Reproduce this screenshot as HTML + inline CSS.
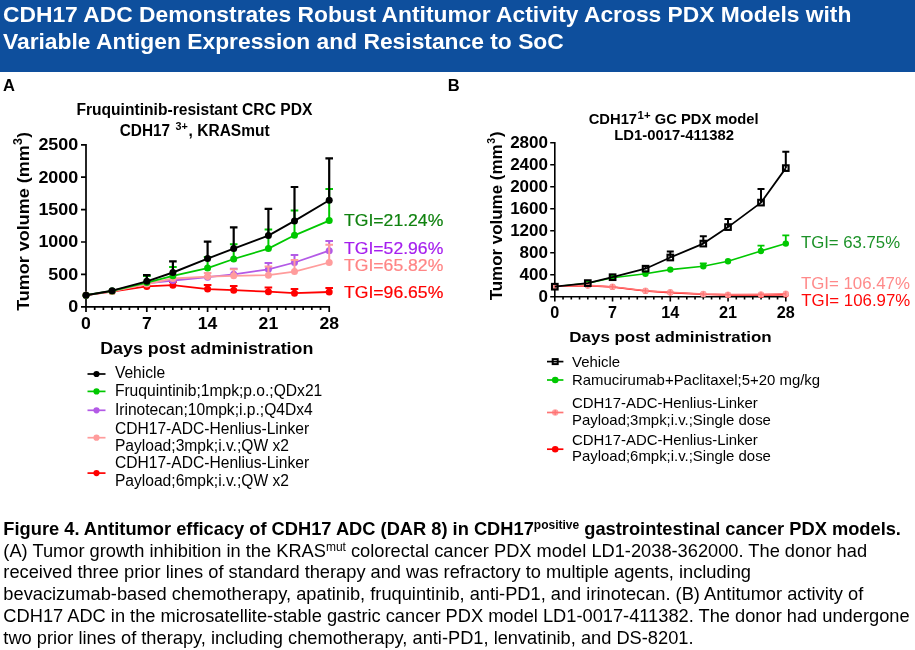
<!DOCTYPE html>
<html><head><meta charset="utf-8"><title>CDH17 ADC</title>
<style>
html,body{margin:0;padding:0;background:#fff;}
body{width:915px;height:650px;position:relative;overflow:hidden;font-family:'Liberation Sans', Arial, sans-serif;color:#000;}
.hdr{position:absolute;left:0;top:0;width:914.6px;height:71.5px;background:#0E4F9D;}
.hdr div{position:absolute;left:3px;color:#fff;font-weight:bold;font-size:22.82px;line-height:27px;white-space:nowrap;}
.lab{position:absolute;font-weight:bold;font-size:16.5px;line-height:18px;}
.cap{position:absolute;left:3.35px;font-size:18.25px;line-height:22px;white-space:nowrap;}
.cap sup{font-size:12px;line-height:0;vertical-align:baseline;position:relative;top:-5.5px;}
svg{position:absolute;left:0;top:0;}
svg text{font-family:'Liberation Sans', Arial, sans-serif;}
</style></head><body>
<div class="hdr"><div style="top:0.6px">CDH17 ADC Demonstrates Robust Antitumor Activity Across PDX Models with</div><div style="top:28px">Variable Antigen Expression and Resistance to SoC</div></div>
<div class="lab" style="left:2.9px;top:76px">A</div>
<div class="lab" style="left:447.8px;top:76px">B</div>
<svg width="915" height="650" viewBox="0 0 915 650">
<g id="chartA">
<path d="M86.0 143.95V306.8H330.05" stroke="#000" stroke-width="1.7" fill="none" stroke-linejoin="miter"/>
<path d="M86.00 306.8v5.2M146.80 306.8v5.2M207.60 306.8v5.2M268.40 306.8v5.2M329.20 306.8v5.2M94.69 306.8v3.2M103.37 306.8v3.2M112.06 306.8v3.2M120.74 306.8v3.2M129.43 306.8v3.2M138.11 306.8v3.2M155.49 306.8v3.2M164.17 306.8v3.2M172.86 306.8v3.2M181.54 306.8v3.2M190.23 306.8v3.2M198.91 306.8v3.2M216.29 306.8v3.2M224.97 306.8v3.2M233.66 306.8v3.2M242.34 306.8v3.2M251.03 306.8v3.2M259.71 306.8v3.2M277.09 306.8v3.2M285.77 306.8v3.2M294.46 306.8v3.2M303.14 306.8v3.2M311.83 306.8v3.2M320.51 306.8v3.2M86.0 306.80h-5M86.0 274.40h-5M86.0 242.00h-5M86.0 209.60h-5M86.0 177.20h-5M86.0 144.80h-5" stroke="#000" stroke-width="1.7" fill="none"/>
<path d="M146.8 286.4V283.1M143.0 283.1H150.6" stroke="#FF0000" stroke-width="2.0" fill="none"/>
<path d="M172.9 285.2V282.1M169.1 282.1H176.7" stroke="#FF0000" stroke-width="2.0" fill="none"/>
<path d="M207.6 289.1V285.1M203.8 285.1H211.4" stroke="#FF0000" stroke-width="2.0" fill="none"/>
<path d="M233.7 290.2V286.1M229.9 286.1H237.5" stroke="#FF0000" stroke-width="2.0" fill="none"/>
<path d="M268.4 291.7V287.6M264.6 287.6H272.2" stroke="#FF0000" stroke-width="2.0" fill="none"/>
<path d="M294.5 293.2V289.1M290.7 289.1H298.3" stroke="#FF0000" stroke-width="2.0" fill="none"/>
<path d="M329.2 292.0V288.1M325.4 288.1H333.0" stroke="#FF0000" stroke-width="2.0" fill="none"/>
<path d="M86.0 295.2L112.1 291.6L146.8 286.4L172.9 285.2L207.6 289.1L233.7 290.2L268.4 291.7L294.5 293.2L329.2 292.0" stroke="#FF0000" stroke-width="1.8" fill="none" stroke-linejoin="round"/>
<circle cx="86.0" cy="295.2" r="3.5" fill="#FF0000"/>
<circle cx="112.1" cy="291.6" r="3.5" fill="#FF0000"/>
<circle cx="146.8" cy="286.4" r="3.5" fill="#FF0000"/>
<circle cx="172.9" cy="285.2" r="3.5" fill="#FF0000"/>
<circle cx="207.6" cy="289.1" r="3.5" fill="#FF0000"/>
<circle cx="233.7" cy="290.2" r="3.5" fill="#FF0000"/>
<circle cx="268.4" cy="291.7" r="3.5" fill="#FF0000"/>
<circle cx="294.5" cy="293.2" r="3.5" fill="#FF0000"/>
<circle cx="329.2" cy="292.0" r="3.5" fill="#FF0000"/>
<path d="M233.7 274.3V268.7M229.9 268.7H237.5" stroke="#B35AE6" stroke-width="2.0" fill="none"/>
<path d="M268.4 269.3V262.9M264.6 262.9H272.2" stroke="#B35AE6" stroke-width="2.0" fill="none"/>
<path d="M294.5 262.5V255.1M290.7 255.1H298.3" stroke="#B35AE6" stroke-width="2.0" fill="none"/>
<path d="M329.2 250.7V241.0M325.4 241.0H333.0" stroke="#B35AE6" stroke-width="2.0" fill="none"/>
<path d="M86.0 295.2L112.1 291.2L146.8 283.4L172.9 280.5L207.6 277.2L233.7 274.3L268.4 269.3L294.5 262.5L329.2 250.7" stroke="#B35AE6" stroke-width="1.8" fill="none" stroke-linejoin="round"/>
<circle cx="86.0" cy="295.2" r="3.5" fill="#B35AE6"/>
<circle cx="112.1" cy="291.2" r="3.5" fill="#B35AE6"/>
<circle cx="146.8" cy="283.4" r="3.5" fill="#B35AE6"/>
<circle cx="172.9" cy="280.5" r="3.5" fill="#B35AE6"/>
<circle cx="207.6" cy="277.2" r="3.5" fill="#B35AE6"/>
<circle cx="233.7" cy="274.3" r="3.5" fill="#B35AE6"/>
<circle cx="268.4" cy="269.3" r="3.5" fill="#B35AE6"/>
<circle cx="294.5" cy="262.5" r="3.5" fill="#B35AE6"/>
<circle cx="329.2" cy="250.7" r="3.5" fill="#B35AE6"/>
<path d="M207.6 276.6V272.9M203.8 272.9H211.4" stroke="#FF9C9C" stroke-width="2.0" fill="none"/>
<path d="M233.7 275.8V269.2M229.9 269.2H237.5" stroke="#FF9C9C" stroke-width="2.0" fill="none"/>
<path d="M268.4 275.2V266.4M264.6 266.4H272.2" stroke="#FF9C9C" stroke-width="2.0" fill="none"/>
<path d="M294.5 271.6V260.1M290.7 260.1H298.3" stroke="#FF9C9C" stroke-width="2.0" fill="none"/>
<path d="M329.2 262.5V244.8M325.4 244.8H333.0" stroke="#FF9C9C" stroke-width="2.0" fill="none"/>
<path d="M86.0 295.2L112.1 291.4L146.8 284.0L172.9 278.5L207.6 276.6L233.7 275.8L268.4 275.2L294.5 271.6L329.2 262.5" stroke="#FF9C9C" stroke-width="1.8" fill="none" stroke-linejoin="round"/>
<circle cx="86.0" cy="295.2" r="3.5" fill="#FF9C9C"/>
<circle cx="112.1" cy="291.4" r="3.5" fill="#FF9C9C"/>
<circle cx="146.8" cy="284.0" r="3.5" fill="#FF9C9C"/>
<circle cx="172.9" cy="278.5" r="3.5" fill="#FF9C9C"/>
<circle cx="207.6" cy="276.6" r="3.5" fill="#FF9C9C"/>
<circle cx="233.7" cy="275.8" r="3.5" fill="#FF9C9C"/>
<circle cx="268.4" cy="275.2" r="3.5" fill="#FF9C9C"/>
<circle cx="294.5" cy="271.6" r="3.5" fill="#FF9C9C"/>
<circle cx="329.2" cy="262.5" r="3.5" fill="#FF9C9C"/>
<path d="M146.8 282.6V276.1M143.0 276.1H150.6" stroke="#00C800" stroke-width="2.0" fill="none"/>
<path d="M172.9 275.8V266.9M169.1 266.9H176.7" stroke="#00C800" stroke-width="2.0" fill="none"/>
<path d="M207.6 268.1V256.9M203.8 256.9H211.4" stroke="#00C800" stroke-width="2.0" fill="none"/>
<path d="M233.7 259.0V244.2M229.9 244.2H237.5" stroke="#00C800" stroke-width="2.0" fill="none"/>
<path d="M268.4 248.6V229.4M264.6 229.4H272.2" stroke="#00C800" stroke-width="2.0" fill="none"/>
<path d="M294.5 235.3V210.6M290.7 210.6H298.3" stroke="#00C800" stroke-width="2.0" fill="none"/>
<path d="M329.2 220.6V189.0M325.4 189.0H333.0" stroke="#00C800" stroke-width="2.0" fill="none"/>
<path d="M86.0 295.2L112.1 290.9L146.8 282.6L172.9 275.8L207.6 268.1L233.7 259.0L268.4 248.6L294.5 235.3L329.2 220.6" stroke="#00C800" stroke-width="1.8" fill="none" stroke-linejoin="round"/>
<circle cx="86.0" cy="295.2" r="3.5" fill="#00C800"/>
<circle cx="112.1" cy="290.9" r="3.5" fill="#00C800"/>
<circle cx="146.8" cy="282.6" r="3.5" fill="#00C800"/>
<circle cx="172.9" cy="275.8" r="3.5" fill="#00C800"/>
<circle cx="207.6" cy="268.1" r="3.5" fill="#00C800"/>
<circle cx="233.7" cy="259.0" r="3.5" fill="#00C800"/>
<circle cx="268.4" cy="248.6" r="3.5" fill="#00C800"/>
<circle cx="294.5" cy="235.3" r="3.5" fill="#00C800"/>
<circle cx="329.2" cy="220.6" r="3.5" fill="#00C800"/>
<path d="M146.8 281.3V275.2M143.0 275.2H150.6" stroke="#000" stroke-width="2.2" fill="none"/>
<path d="M172.9 272.5V261.3M169.1 261.3H176.7" stroke="#000" stroke-width="2.2" fill="none"/>
<path d="M207.6 258.6V241.6M203.8 241.6H211.4" stroke="#000" stroke-width="2.2" fill="none"/>
<path d="M233.7 248.6V227.4M229.9 227.4H237.5" stroke="#000" stroke-width="2.2" fill="none"/>
<path d="M268.4 235.6V208.8M264.6 208.8H272.2" stroke="#000" stroke-width="2.2" fill="none"/>
<path d="M294.5 220.9V187.0M290.7 187.0H298.3" stroke="#000" stroke-width="2.2" fill="none"/>
<path d="M329.2 200.2V158.3M325.4 158.3H333.0" stroke="#000" stroke-width="2.2" fill="none"/>
<path d="M86.0 295.2L112.1 290.7L146.8 281.3L172.9 272.5L207.6 258.6L233.7 248.6L268.4 235.6L294.5 220.9L329.2 200.2" stroke="#000" stroke-width="1.9" fill="none" stroke-linejoin="round"/>
<circle cx="86.0" cy="295.2" r="3.5" fill="#000"/>
<circle cx="112.1" cy="290.7" r="3.5" fill="#000"/>
<circle cx="146.8" cy="281.3" r="3.5" fill="#000"/>
<circle cx="172.9" cy="272.5" r="3.5" fill="#000"/>
<circle cx="207.6" cy="258.6" r="3.5" fill="#000"/>
<circle cx="233.7" cy="248.6" r="3.5" fill="#000"/>
<circle cx="268.4" cy="235.6" r="3.5" fill="#000"/>
<circle cx="294.5" cy="220.9" r="3.5" fill="#000"/>
<circle cx="329.2" cy="200.2" r="3.5" fill="#000"/>
<text x="68.33" y="312.1" font-size="16.6" font-weight="bold" fill="#000" text-anchor="start" textLength="9.97" lengthAdjust="spacingAndGlyphs" >0</text>
<text x="48.39" y="279.7" font-size="16.6" font-weight="bold" fill="#000" text-anchor="start" textLength="29.91" lengthAdjust="spacingAndGlyphs" >500</text>
<text x="38.42" y="247.3" font-size="16.6" font-weight="bold" fill="#000" text-anchor="start" textLength="39.88" lengthAdjust="spacingAndGlyphs" >1000</text>
<text x="38.42" y="214.9" font-size="16.6" font-weight="bold" fill="#000" text-anchor="start" textLength="39.88" lengthAdjust="spacingAndGlyphs" >1500</text>
<text x="38.42" y="182.5" font-size="16.6" font-weight="bold" fill="#000" text-anchor="start" textLength="39.88" lengthAdjust="spacingAndGlyphs" >2000</text>
<text x="38.42" y="150.1" font-size="16.6" font-weight="bold" fill="#000" text-anchor="start" textLength="39.88" lengthAdjust="spacingAndGlyphs" >2500</text>
<text x="81.11" y="329.2" font-size="16.6" font-weight="bold" fill="#000" text-anchor="start" textLength="9.79" lengthAdjust="spacingAndGlyphs" >0</text>
<text x="141.91" y="329.2" font-size="16.6" font-weight="bold" fill="#000" text-anchor="start" textLength="9.79" lengthAdjust="spacingAndGlyphs" >7</text>
<text x="197.81" y="329.2" font-size="16.6" font-weight="bold" fill="#000" text-anchor="start" textLength="19.57" lengthAdjust="spacingAndGlyphs" >14</text>
<text x="258.61" y="329.2" font-size="16.6" font-weight="bold" fill="#000" text-anchor="start" textLength="19.57" lengthAdjust="spacingAndGlyphs" >21</text>
<text x="319.41" y="329.2" font-size="16.6" font-weight="bold" fill="#000" text-anchor="start" textLength="19.57" lengthAdjust="spacingAndGlyphs" >28</text>
<text x="76.4" y="114.5" font-size="15.6" font-weight="bold" fill="#000" text-anchor="start" textLength="236" lengthAdjust="spacingAndGlyphs" >Fruquintinib-resistant CRC PDX</text>
<text x="119.7" y="135.7" font-size="15.6" font-weight="bold" fill="#000" text-anchor="start" textLength="50.38" lengthAdjust="spacingAndGlyphs" >CDH17</text>
<text x="175.6" y="129.5" font-size="10.8" font-weight="bold" fill="#000" text-anchor="start" >3+</text>
<text x="188.6" y="135.7" font-size="15.6" font-weight="bold" fill="#000" text-anchor="start" textLength="81.06" lengthAdjust="spacingAndGlyphs" >, KRASmut</text>
<text x="100.2" y="354.2" font-size="17" font-weight="bold" fill="#000" text-anchor="start" textLength="213.2" lengthAdjust="spacingAndGlyphs" >Days post administration</text>
<g transform="translate(28.6,310.8) rotate(-90)"><text x="0" y="0" font-size="17.2" font-weight="bold" fill="#000" text-anchor="start" textLength="165.5" lengthAdjust="spacingAndGlyphs" >Tumor volume (mm</text><text x="165.8" y="-6.6" font-size="12.5" font-weight="bold" fill="#000" text-anchor="start" >3</text><text x="173" y="0" font-size="17.2" font-weight="bold" fill="#000" text-anchor="start" >)</text></g>
<text x="344" y="225.6" font-size="17.2" font-weight="normal" fill="#10820F" text-anchor="start" textLength="99.3" lengthAdjust="spacingAndGlyphs" stroke="#10820F" stroke-width="0.2">TGI=21.24%</text>
<text x="344" y="253.5" font-size="17.2" font-weight="normal" fill="#A51EEE" text-anchor="start" textLength="99.3" lengthAdjust="spacingAndGlyphs" stroke="#A51EEE" stroke-width="0.2">TGI=52.96%</text>
<text x="344" y="271.3" font-size="17.2" font-weight="normal" fill="#FF8585" text-anchor="start" textLength="99.3" lengthAdjust="spacingAndGlyphs" stroke="#FF8585" stroke-width="0.2">TGI=65.82%</text>
<text x="344" y="298.4" font-size="17.2" font-weight="normal" fill="#FF0000" text-anchor="start" textLength="99.3" lengthAdjust="spacingAndGlyphs" stroke="#FF0000" stroke-width="0.2">TGI=96.65%</text>
<path d="M87.5 374H105.5" stroke="#000" stroke-width="1.7"/><circle cx="96.5" cy="374" r="3.1" fill="#000"/>
<text x="114.9" y="378.1" font-size="16.0" font-weight="normal" fill="#000" text-anchor="start" textLength="50.34" lengthAdjust="spacingAndGlyphs" >Vehicle</text>
<path d="M87.5 391.4H105.5" stroke="#00C800" stroke-width="1.7"/><circle cx="96.5" cy="391.4" r="3.1" fill="#00C800"/>
<text x="114.9" y="395.5" font-size="16.0" font-weight="normal" fill="#000" text-anchor="start" textLength="207.37" lengthAdjust="spacingAndGlyphs" >Fruquintinib;1mpk;p.o.;QDx21</text>
<path d="M87.5 410.3H105.5" stroke="#B35AE6" stroke-width="1.7"/><circle cx="96.5" cy="410.3" r="3.1" fill="#B35AE6"/>
<text x="114.9" y="414.7" font-size="16.0" font-weight="normal" fill="#000" text-anchor="start" textLength="197.83" lengthAdjust="spacingAndGlyphs" >Irinotecan;10mpk;i.p.;Q4Dx4</text>
<path d="M87.5 437.7H105.5" stroke="#FF9C9C" stroke-width="1.7"/><circle cx="96.5" cy="437.7" r="3.1" fill="#FF9C9C"/>
<text x="114.9" y="433.9" font-size="16.0" font-weight="normal" fill="#000" text-anchor="start" textLength="194.32" lengthAdjust="spacingAndGlyphs" >CDH17-ADC-Henlius-Linker</text>
<text x="114.9" y="451" font-size="16.0" font-weight="normal" fill="#000" text-anchor="start" textLength="174.08" lengthAdjust="spacingAndGlyphs" >Payload;3mpk;i.v.;QW x2</text>
<path d="M87.5 473.1H105.5" stroke="#FF0000" stroke-width="1.7"/><circle cx="96.5" cy="473.1" r="3.1" fill="#FF0000"/>
<text x="114.9" y="468.1" font-size="16.0" font-weight="normal" fill="#000" text-anchor="start" textLength="194.32" lengthAdjust="spacingAndGlyphs" >CDH17-ADC-Henlius-Linker</text>
<text x="114.9" y="485.5" font-size="16.0" font-weight="normal" fill="#000" text-anchor="start" textLength="174.08" lengthAdjust="spacingAndGlyphs" >Payload;6mpk;i.v.;QW x2</text>
</g>
<g id="chartB">
<path d="M554.8 141.90V296.7H786.60" stroke="#000" stroke-width="1.6" fill="none" stroke-linejoin="miter"/>
<path d="M554.80 296.7v4.8M612.55 296.7v4.8M670.30 296.7v4.8M728.05 296.7v4.8M785.80 296.7v4.8M563.05 296.7v2.8M571.30 296.7v2.8M579.55 296.7v2.8M587.80 296.7v2.8M596.05 296.7v2.8M604.30 296.7v2.8M620.80 296.7v2.8M629.05 296.7v2.8M637.30 296.7v2.8M645.55 296.7v2.8M653.80 296.7v2.8M662.05 296.7v2.8M678.55 296.7v2.8M686.80 296.7v2.8M695.05 296.7v2.8M703.30 296.7v2.8M711.55 296.7v2.8M719.80 296.7v2.8M736.30 296.7v2.8M744.55 296.7v2.8M752.80 296.7v2.8M761.05 296.7v2.8M769.30 296.7v2.8M777.55 296.7v2.8M554.8 296.70h-4.6M554.8 274.70h-4.6M554.8 252.70h-4.6M554.8 230.70h-4.6M554.8 208.70h-4.6M554.8 186.70h-4.6M554.8 164.70h-4.6M554.8 142.70h-4.6" stroke="#000" stroke-width="1.6" fill="none"/>
<path d="M703.3 266.3V263.4M699.8 263.4H706.8" stroke="#00C800" stroke-width="1.8" fill="none"/>
<path d="M761.0 251.0V245.6M757.5 245.6H764.5" stroke="#00C800" stroke-width="1.8" fill="none"/>
<path d="M785.8 243.6V235.3M782.3 235.3H789.3" stroke="#00C800" stroke-width="1.8" fill="none"/>
<path d="M554.8 286.7L587.8 283.3L612.5 277.8L645.5 273.7L670.3 269.6L703.3 266.3L728.0 261.3L761.0 251.0L785.8 243.6" stroke="#00C800" stroke-width="1.6" fill="none" stroke-linejoin="round"/>
<circle cx="554.8" cy="286.7" r="3.2" fill="#00C800"/>
<circle cx="587.8" cy="283.3" r="3.2" fill="#00C800"/>
<circle cx="612.5" cy="277.8" r="3.2" fill="#00C800"/>
<circle cx="645.5" cy="273.7" r="3.2" fill="#00C800"/>
<circle cx="670.3" cy="269.6" r="3.2" fill="#00C800"/>
<circle cx="703.3" cy="266.3" r="3.2" fill="#00C800"/>
<circle cx="728.0" cy="261.3" r="3.2" fill="#00C800"/>
<circle cx="761.0" cy="251.0" r="3.2" fill="#00C800"/>
<circle cx="785.8" cy="243.6" r="3.2" fill="#00C800"/>
<path d="M554.8 286.1L587.8 285.6L612.5 287.0L645.5 291.0L670.3 292.6L703.3 294.3L728.0 294.9L761.0 294.9L785.8 294.6" stroke="#FF0000" stroke-width="1.6" fill="none" stroke-linejoin="round"/>
<circle cx="554.8" cy="286.1" r="3.0" fill="#FF0000"/>
<circle cx="587.8" cy="285.6" r="3.0" fill="#FF0000"/>
<circle cx="612.5" cy="287.0" r="3.0" fill="#FF0000"/>
<circle cx="645.5" cy="291.0" r="3.0" fill="#FF0000"/>
<circle cx="670.3" cy="292.6" r="3.0" fill="#FF0000"/>
<circle cx="703.3" cy="294.3" r="3.0" fill="#FF0000"/>
<circle cx="728.0" cy="294.9" r="3.0" fill="#FF0000"/>
<circle cx="761.0" cy="294.9" r="3.0" fill="#FF0000"/>
<circle cx="785.8" cy="294.6" r="3.0" fill="#FF0000"/>
<circle cx="554.8" cy="286.1" r="3.2" fill="#FFA3A3"/><circle cx="587.8" cy="285.4" r="3.2" fill="#FFA3A3"/><circle cx="612.5" cy="286.7" r="3.2" fill="#FFA3A3"/><circle cx="645.5" cy="290.8" r="3.2" fill="#FFA3A3"/><circle cx="670.3" cy="292.3" r="3.2" fill="#FFA3A3"/><circle cx="703.3" cy="294.0" r="3.2" fill="#FFA3A3"/><circle cx="728.0" cy="294.6" r="3.2" fill="#FFA3A3"/><circle cx="761.0" cy="294.4" r="3.2" fill="#FFA3A3"/><circle cx="785.8" cy="293.8" r="3.2" fill="#FFA3A3"/>
<path d="M554.8 286.1L587.8 285.4L612.5 286.7L645.5 290.8L670.3 292.3L703.3 294.0L728.0 294.6L761.0 294.4L785.8 293.8" stroke="#FF7575" stroke-width="1.6" fill="none" stroke-linejoin="round"/>
<path d="M554.8 283.5v5.2M587.8 282.8v5.2M612.5 284.1v5.2M645.5 288.2v5.2M670.3 289.7v5.2M703.3 291.4v5.2M728.0 292.0v5.2M761.0 291.8v5.2M785.8 291.2v5.2" stroke="#FF7575" stroke-width="1.2" fill="none"/>
<path d="M645.5 268.7V266.1M642.0 266.1H649.0" stroke="#000" stroke-width="2.0" fill="none"/>
<path d="M670.3 257.5V251.6M666.8 251.6H673.8" stroke="#000" stroke-width="2.0" fill="none"/>
<path d="M703.3 243.6V236.2M699.8 236.2H706.8" stroke="#000" stroke-width="2.0" fill="none"/>
<path d="M728.0 227.1V219.1M724.5 219.1H731.5" stroke="#000" stroke-width="2.0" fill="none"/>
<path d="M761.0 202.6V189.0M757.5 189.0H764.5" stroke="#000" stroke-width="2.0" fill="none"/>
<path d="M785.8 168.1V151.8M782.3 151.8H789.3" stroke="#000" stroke-width="2.0" fill="none"/>
<path d="M554.8 286.7L587.8 283.1L612.5 277.2L645.5 268.7L670.3 257.5L703.3 243.6L728.0 227.1L761.0 202.6L785.8 168.1" stroke="#000" stroke-width="1.8" fill="none" stroke-linejoin="round"/>
<rect x="552.0" y="283.9" width="5.6" height="5.6" fill="none" stroke="#000" stroke-width="2.1"/>
<rect x="585.0" y="280.3" width="5.6" height="5.6" fill="none" stroke="#000" stroke-width="2.1"/>
<rect x="609.8" y="274.4" width="5.6" height="5.6" fill="none" stroke="#000" stroke-width="2.1"/>
<rect x="642.8" y="265.9" width="5.6" height="5.6" fill="none" stroke="#000" stroke-width="2.1"/>
<rect x="667.5" y="254.7" width="5.6" height="5.6" fill="none" stroke="#000" stroke-width="2.1"/>
<rect x="700.5" y="240.8" width="5.6" height="5.6" fill="none" stroke="#000" stroke-width="2.1"/>
<rect x="725.2" y="224.3" width="5.6" height="5.6" fill="none" stroke="#000" stroke-width="2.1"/>
<rect x="758.2" y="199.8" width="5.6" height="5.6" fill="none" stroke="#000" stroke-width="2.1"/>
<rect x="783.0" y="165.3" width="5.6" height="5.6" fill="none" stroke="#000" stroke-width="2.1"/>
<text x="538.54" y="302.4" font-size="16.2" font-weight="bold" fill="#000" text-anchor="start" textLength="9.46" lengthAdjust="spacingAndGlyphs" >0</text>
<text x="519.62" y="280.4" font-size="16.2" font-weight="bold" fill="#000" text-anchor="start" textLength="28.38" lengthAdjust="spacingAndGlyphs" >400</text>
<text x="519.62" y="258.4" font-size="16.2" font-weight="bold" fill="#000" text-anchor="start" textLength="28.38" lengthAdjust="spacingAndGlyphs" >800</text>
<text x="510.16" y="236.4" font-size="16.2" font-weight="bold" fill="#000" text-anchor="start" textLength="37.84" lengthAdjust="spacingAndGlyphs" >1200</text>
<text x="510.16" y="214.4" font-size="16.2" font-weight="bold" fill="#000" text-anchor="start" textLength="37.84" lengthAdjust="spacingAndGlyphs" >1600</text>
<text x="510.16" y="192.4" font-size="16.2" font-weight="bold" fill="#000" text-anchor="start" textLength="37.84" lengthAdjust="spacingAndGlyphs" >2000</text>
<text x="510.16" y="170.4" font-size="16.2" font-weight="bold" fill="#000" text-anchor="start" textLength="37.84" lengthAdjust="spacingAndGlyphs" >2400</text>
<text x="510.16" y="148.4" font-size="16.2" font-weight="bold" fill="#000" text-anchor="start" textLength="37.84" lengthAdjust="spacingAndGlyphs" >2800</text>
<text x="550.3" y="318.2" font-size="16.2" font-weight="bold" fill="#000" text-anchor="start" textLength="9.01" lengthAdjust="spacingAndGlyphs" >0</text>
<text x="608.0" y="318.2" font-size="16.2" font-weight="bold" fill="#000" text-anchor="start" textLength="9.01" lengthAdjust="spacingAndGlyphs" >7</text>
<text x="661.29" y="318.2" font-size="16.2" font-weight="bold" fill="#000" text-anchor="start" textLength="18.02" lengthAdjust="spacingAndGlyphs" >14</text>
<text x="718.99" y="318.2" font-size="16.2" font-weight="bold" fill="#000" text-anchor="start" textLength="18.02" lengthAdjust="spacingAndGlyphs" >21</text>
<text x="776.79" y="318.2" font-size="16.2" font-weight="bold" fill="#000" text-anchor="start" textLength="18.02" lengthAdjust="spacingAndGlyphs" >28</text>
<text x="588.7" y="123.7" font-size="14.5" font-weight="bold" fill="#000" text-anchor="start" textLength="48.4" lengthAdjust="spacingAndGlyphs" >CDH17</text>
<text x="637.6" y="118.9" font-size="10.8" font-weight="bold" fill="#000" text-anchor="start" textLength="13" lengthAdjust="spacingAndGlyphs" >1+</text>
<text x="654.8" y="123.7" font-size="14.5" font-weight="bold" fill="#000" text-anchor="start" textLength="103.8" lengthAdjust="spacingAndGlyphs" >GC PDX model</text>
<text x="614.3" y="140.1" font-size="14.5" font-weight="bold" fill="#000" text-anchor="start" textLength="119.8" lengthAdjust="spacingAndGlyphs" >LD1-0017-411382</text>
<text x="569.3" y="342" font-size="15" font-weight="bold" fill="#000" text-anchor="start" textLength="202.4" lengthAdjust="spacingAndGlyphs" >Days post administration</text>
<g transform="translate(501.7,300.3) rotate(-90)"><text x="0" y="0" font-size="16.4" font-weight="bold" fill="#000" text-anchor="start" textLength="155.8" lengthAdjust="spacingAndGlyphs" >Tumor volume (mm</text><text x="156.6" y="-6.3" font-size="10.5" font-weight="bold" fill="#000" text-anchor="start" >3</text><text x="163.4" y="0" font-size="16.4" font-weight="bold" fill="#000" text-anchor="start" >)</text></g>
<text x="800.9" y="247.5" font-size="16.5" font-weight="normal" fill="#1C9228" text-anchor="start" textLength="99.2" lengthAdjust="spacingAndGlyphs" >TGI= 63.75%</text>
<text x="800.9" y="289.4" font-size="16.5" font-weight="normal" fill="#FF8A8A" text-anchor="start" textLength="109" lengthAdjust="spacingAndGlyphs" >TGI= 106.47%</text>
<text x="801.3" y="305.8" font-size="16.5" font-weight="normal" fill="#FF0808" text-anchor="start" textLength="109" lengthAdjust="spacingAndGlyphs" >TGI= 106.97%</text>
<path d="M547.0 361.6H563.4000000000001" stroke="#000" stroke-width="1.7"/><rect x="552.7" y="359.1" width="5" height="5" fill="none" stroke="#000" stroke-width="2"/>
<text x="572" y="366.6" font-size="14.5" font-weight="normal" fill="#000" text-anchor="start" textLength="48.15" lengthAdjust="spacingAndGlyphs" >Vehicle</text>
<path d="M547.0 380H563.4000000000001" stroke="#00C800" stroke-width="1.7"/><circle cx="555.2" cy="380" r="3.3" fill="#00C800"/>
<text x="572" y="384.6" font-size="14.5" font-weight="normal" fill="#000" text-anchor="start" textLength="248.13" lengthAdjust="spacingAndGlyphs" >Ramucirumab+Paclitaxel;5+20 mg/kg</text>
<circle cx="555.2" cy="412.5" r="3.2" fill="#FFA3A3"/><path d="M547.0 412.5H563.4000000000001" stroke="#FF7575" stroke-width="1.7"/><path d="M555.2 409.9v5.2" stroke="#FF7575" stroke-width="1.2"/>
<text x="572" y="408.2" font-size="14.5" font-weight="normal" fill="#000" text-anchor="start" textLength="185.85" lengthAdjust="spacingAndGlyphs" >CDH17-ADC-Henlius-Linker</text>
<text x="572" y="424.6" font-size="14.5" font-weight="normal" fill="#000" text-anchor="start" textLength="198.91" lengthAdjust="spacingAndGlyphs" >Payload;3mpk;i.v.;Single dose</text>
<path d="M547.0 449.2H563.4000000000001" stroke="#FF0000" stroke-width="1.7"/><circle cx="555.2" cy="449.2" r="3.3" fill="#FF0000"/>
<text x="572" y="444.9" font-size="14.5" font-weight="normal" fill="#000" text-anchor="start" textLength="185.85" lengthAdjust="spacingAndGlyphs" >CDH17-ADC-Henlius-Linker</text>
<text x="572" y="461.3" font-size="14.5" font-weight="normal" fill="#000" text-anchor="start" textLength="198.91" lengthAdjust="spacingAndGlyphs" >Payload;6mpk;i.v.;Single dose</text>
</g>
</svg>
<div class="cap" style="top:517.6px;font-weight:bold;font-size:18.28px">Figure 4. Antitumor efficacy of CDH17 ADC (DAR 8) in CDH17<sup>positive</sup> gastrointestinal cancer PDX models.</div>
<div class="cap" style="top:539.6px">(A) Tumor growth inhibition in the KRAS<sup>mut</sup> colorectal cancer PDX model LD1-2038-362000. The donor had</div>
<div class="cap" style="top:561.3px">received three prior lines of standard therapy and was refractory to multiple agents, including</div>
<div class="cap" style="top:582.9px">bevacizumab-based chemotherapy, apatinib, fruquintinib, anti-PD1, and irinotecan. (B) Antitumor activity of</div>
<div class="cap" style="top:604.6px">CDH17 ADC in the microsatellite-stable gastric cancer PDX model LD1-0017-411382. The donor had undergone</div>
<div class="cap" style="top:626.8px">two prior lines of therapy, including chemotherapy, anti-PD1, lenvatinib, and DS-8201.</div>
</body></html>
